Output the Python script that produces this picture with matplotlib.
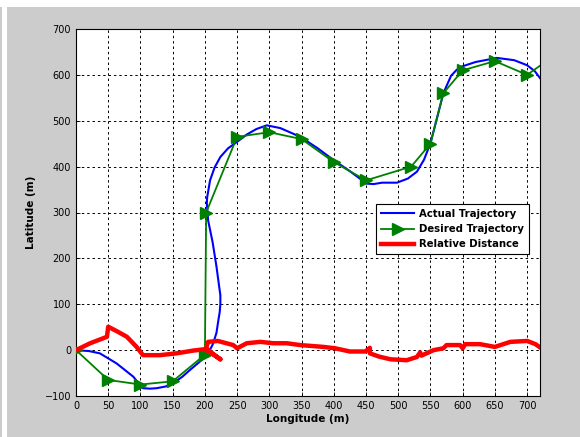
import numpy as np
import matplotlib
matplotlib.use('Agg')
import matplotlib.pyplot as plt
from matplotlib.patches import Rectangle

# desired trajectory (waypoints)
des_x = [0, 50, 100, 150, 200, 202, 250, 300, 350, 400, 450, 520, 550, 570, 600, 650, 700, 725]
des_y = [0, -65, -75, -68, -10, 300, 465, 475, 460, 410, 370, 400, 450, 560, 610, 630, 600, 625]

# actual trajectory
act_x = [0, 20, 37, 63, 89, 98, 104, 115, 125, 140, 151, 165, 177, 188, 198, 207, 213, 218, 221,
         223, 224, 224, 222, 218, 212, 205, 203, 203.5, 205, 208, 215, 224, 236, 250, 265, 280,
         296, 317, 348, 375, 400, 425, 451, 462, 475, 498, 515, 529, 540, 550, 560, 570, 582,
         590, 596, 620, 653, 680, 700, 712, 720]
act_y = [0, -2, -7, -29, -58, -74, -83, -84, -83, -79, -72, -58, -43, -30, -18, -2, 15, 38, 66,
         83, 100, 120, 140, 182, 235, 283, 320, 333, 345, 370, 398, 421, 440, 454, 470, 482,
         490, 484, 465, 440, 414, 390, 363, 362, 365, 365, 374, 389, 415, 451, 505, 560, 598,
         610, 617, 628, 637, 632, 621, 608, 593]

# relative distance
rel_x = [0, 22, 48, 50, 65, 79, 94, 104, 130, 156, 182, 200, 212, 224, 212, 202, 205, 220,
         244, 250, 265, 286, 306, 327, 348, 384, 402, 425, 449, 456, 456, 470, 488, 513, 529,
         534, 536, 555, 570, 575, 596, 600, 604, 627, 650, 674, 700, 713, 720]
rel_y = [0, 15, 29, 51, 40, 29, 7, -11, -11, -7, -1, 2, -8, -20, -8, 5, 18, 20,
         11, 4, 15, 18, 15, 15, 11, 7, 4, -3, -3, 5, -7, -14, -20, -22, -15,
         -5, -12, 0, 4, 11, 11, 4, 13, 13, 7, 18, 20, 13, 6]

fig = plt.figure(figsize=(5.8, 4.37), dpi=100)
fig.patch.set_facecolor('#cccccc')
# white border strips like the original screenshot
fig.patches.append(Rectangle((0, 1 - 7 / 437), 1, 7 / 437, transform=fig.transFigure,
                             facecolor='white', edgecolor='none', zorder=0))
fig.patches.append(Rectangle((2 / 580, 0), 5 / 580, 1, transform=fig.transFigure,
                             facecolor='white', edgecolor='none', zorder=0))

ax = fig.add_axes([76 / 580, 1 - 396 / 437, 464 / 580, 367 / 437])
ax.set_facecolor('white')

ax.plot(act_x, act_y, color='#0000ff', lw=1.5, label='Actual Trajectory', zorder=3)
ax.plot(des_x, des_y, color='#008000', lw=1.3, marker='>', markersize=8,
        markevery=list(range(len(des_x) - 1)),
        markerfacecolor='#008000', markeredgecolor='#008000', label='Desired Trajectory', zorder=4)
ax.plot(rel_x, rel_y, color='#ff0000', lw=3.2, label='Relative Distance', zorder=5)

ax.set_xlim(0, 720)
ax.set_ylim(-100, 700)
ax.set_xticks(np.arange(0, 701, 50))
ax.set_yticks(np.arange(-100, 701, 100))
ax.tick_params(labelsize=7, direction='in', length=3, width=0.6)
ax.grid(True, color='black', linestyle=(0, (2.5, 3)), linewidth=0.7)
for s in ax.spines.values():
    s.set_linewidth(0.8)

ax.set_xlabel('Longitude (m)', fontsize=7.5, fontweight='bold', labelpad=2)
ax.set_ylabel('Latitude (m)', fontsize=7.5, fontweight='bold', labelpad=6)

leg = ax.legend(loc='upper right', bbox_to_anchor=(0.976, 0.522), fancybox=False,
                framealpha=1, edgecolor='black', prop={'size': 7.3, 'weight': 'bold'},
                handlelength=3.3, borderpad=0.45, labelspacing=0.5, borderaxespad=0,
                handletextpad=0.5)
leg.get_frame().set_linewidth(0.8)

fig.savefig('out.png', dpi=100, facecolor=fig.get_facecolor())
